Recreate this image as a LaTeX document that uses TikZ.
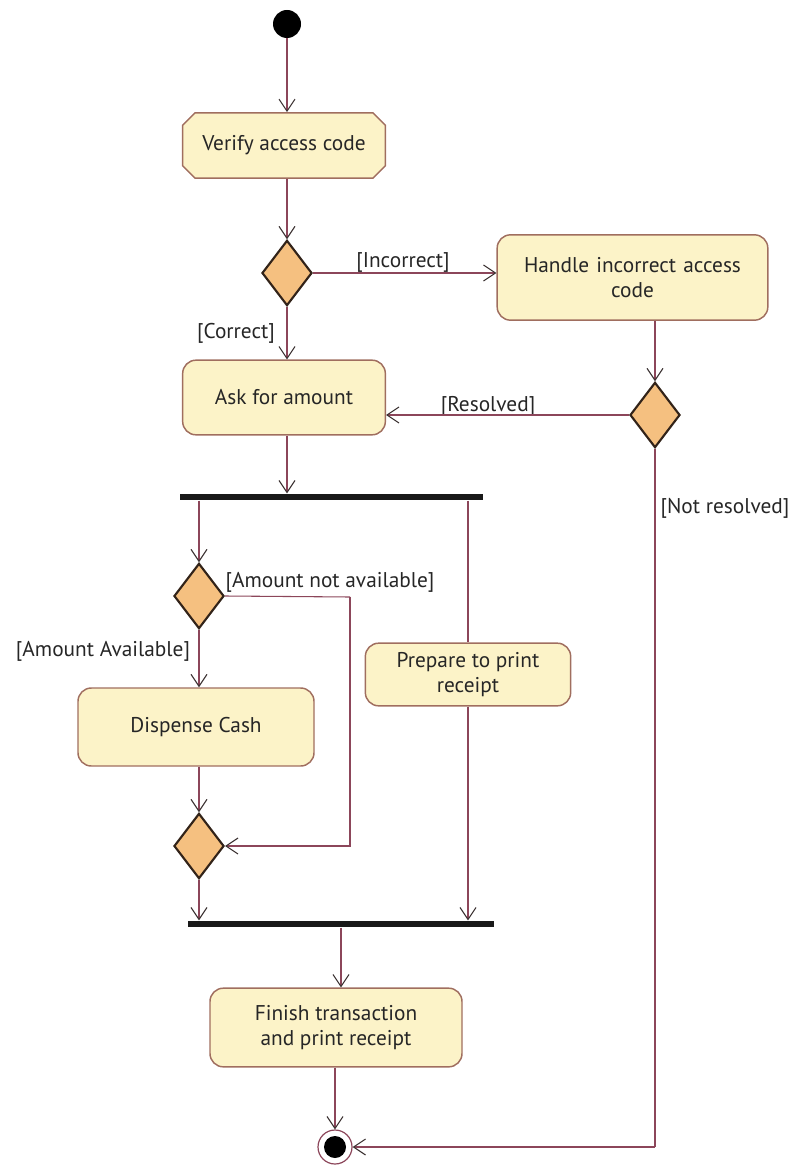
\documentclass[tikz,border=0pt]{standalone}
\usepackage{fontspec}
\setmainfont{PT Sans}
\usetikzlibrary{shapes.geometric,shapes.misc,arrows.meta}
\definecolor{boxfill}{RGB}{252,243,200}
\definecolor{boxline}{RGB}{160,110,95}
\definecolor{dfill}{RGB}{245,192,128}
\definecolor{dline}{RGB}{50,35,25}
\definecolor{wire}{RGB}{140,70,90}
\definecolor{tip}{RGB}{60,50,50}
\begin{document}
\begin{tikzpicture}[x=0.75pt,y=-0.75pt,
  font=\fontsize{16}{19}\selectfont,
  act/.style={draw=boxline,fill=boxfill,line width=1.1pt,rounded corners=10pt,align=center,text=black!85},
  chamf/.style={chamfered rectangle,chamfered rectangle xsep=6pt,draw=boxline,fill=boxfill,line width=1.1pt,align=center,text=black!85},
  dec/.style={diamond,draw=dline,fill=dfill,line width=1.6pt,inner sep=0pt,minimum width=37.5pt,minimum height=49pt},
  bar/.style={rectangle,fill=black!90,inner sep=0pt,minimum height=5pt},
  wireline/.style={draw=wire,line width=0.8pt},
  arr/.style={wireline,-{Straight Barb[length=9pt,width=12pt,line width=0.8pt,color=tip]}},
  lbl/.style={text=black!85,inner sep=1pt}]
\useasboundingbox (0,0) rectangle (794,1169);
% nodes
\node[circle,fill=black,inner sep=0pt,minimum size=21pt] (start) at (287,24) {};
\node[chamf,minimum width=152pt,minimum height=49pt] (verify) at (284,145.5) {Verify access code};
\node[dec] (d1) at (287,273) {};
\node[act,minimum width=203pt,minimum height=64pt,text width=190pt] (handle) at (632.5,277.5) {Handle incorrect access\\code\\[10pt]};
\node[act,minimum width=152pt,minimum height=56pt] (ask) at (284,397.5) {Ask for amount};
\node[dec] (d2) at (655,415) {};
\node[bar,minimum width=227pt] (fork) at (331.5,497) {};
\node[dec] (d3) at (199,596) {};
\node[act,minimum width=177pt,minimum height=58.5pt] (dispense) at (196,727) {Dispense Cash};
\node[act,minimum width=154pt,minimum height=47pt] (prepare) at (468,674.5) {Prepare to print\\receipt};
\node[dec] (d4) at (199,846) {};
\node[bar,minimum width=229pt] (join) at (341,924) {};
\node[act,minimum width=189pt,minimum height=59pt] (finish) at (336,1027.5) {Finish transaction\\and print receipt};
\node[circle,draw=wire,line width=0.9pt,fill=white,inner sep=0pt,minimum size=25.5pt] (final) at (335,1147) {};
\node[circle,fill=black,inner sep=0pt,minimum size=16.5pt] (finalin) at (final.center) {};
\coordinate (nr) at (350,597);
\coordinate (corner) at (655,1147);
% labels
\node[lbl] (lInc) at (403,262) {[Incorrect]};
\node[lbl] (lCor) at (236,333) {[Correct]};
\node[lbl] (lRes) at (488,406) {[Resolved]};
\node[lbl] (lNot) at (725,508) {[Not resolved]};
\node[lbl] (lNA) at (330,582) {[Amount not available]};
\node[lbl] (lAv) at (103,651) {[Amount Available]};
% connectors
\draw[arr] (start) -- (start |- verify.north);
\draw[arr] (verify.south -| d1.north) -- (d1.north);
\draw[arr] (d1.east) -- (d1.east -| handle.west);
\draw[arr] (d1.south) -- (d1.south |- ask.north);
\draw[arr] (handle.south -| d2.north) -- (d2.north);
\draw[arr] (d2.west) -- (d2.west -| ask.east);
\draw[wireline] (d2.south) -- (corner);
\draw[arr] (corner) -- (final.east);
\draw[arr] (ask.south -| d1.south) -- (d1.south |- fork.north);
\draw[arr] (fork.south -| d3.north) -- (d3.north);
\draw[wireline] (fork.south -| prepare.north) -- (prepare.north);
\draw[wireline] (d3.east) -- (nr);
\draw[arr] (nr) |- (d4.east);
\draw[arr] (d3.south) -- (d3.south |- dispense.north);
\draw[arr] (dispense.south -| d4.north) -- (d4.north);
\draw[arr] (d4.south) -- (d4.south |- join.north);
\draw[arr] (prepare.south) -- (prepare.south |- join.north);
\draw[arr] (join.south) -- (join.south |- finish.north);
\draw[arr] (finish.south -| final.north) -- (final.north);
\end{tikzpicture}
\end{document}
